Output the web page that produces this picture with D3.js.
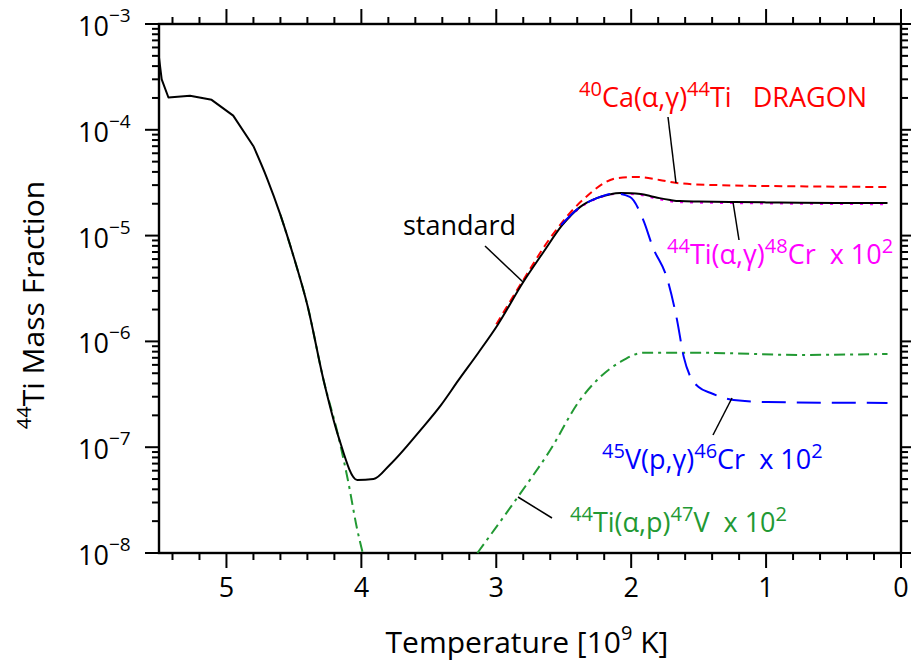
<!DOCTYPE html>
<html lang="en">
<head>
<meta charset="UTF-8">
<title>44Ti Mass Fraction</title>
<script src="https://d3js.org/d3.v7.min.js"></script>
<style>
    body { margin: 0; padding: 0; background: #fff; overflow: hidden; }
    text { font-family: "Open Sans", "Noto Sans", sans-serif; }
</style>
</head>
<body>
<script>
    // temperature [10^9 K]
    const stdT   = [5.50, 5.48, 5.43, 5.27, 5.11, 4.95, 4.80, 4.70, 4.60, 4.50, 4.40, 4.28, 4.17, 4.03, 3.91, 3.79, 3.56, 3.41, 3.28, 3.13, 2.99, 2.80, 2.65, 2.51, 2.38, 2.25, 2.16, 2.08, 2.00, 1.93, 1.86, 1.79, 1.71, 1.64, 1.50, 1.24, 1.00, 0.75, 0.10];
    const stdY   = [4.8e-4, 3.0e-4, 2.02e-4, 2.1e-4, 1.92e-4, 1.36e-4, 7.0e-5, 3.5e-5, 1.57e-5, 6.2e-6, 2.2e-6, 4.3e-7, 1.26e-7, 4.9e-8, 5.0e-8, 6.8e-8, 1.46e-7, 2.5e-7, 4.3e-7, 7.9e-7, 1.43e-6, 3.64e-6, 7.0e-6, 1.26e-5, 1.86e-5, 2.27e-5, 2.45e-5, 2.53e-5, 2.52e-5, 2.47e-5, 2.37e-5, 2.26e-5, 2.17e-5, 2.12e-5, 2.10e-5, 2.08e-5, 2.06e-5, 2.04e-5, 2.03e-5];
    const stdKink = 6; // coarse polyline up to this point, smooth afterwards

    const dragonT = [3.00, 2.80, 2.60, 2.36, 2.10, 1.96, 1.79, 1.66, 1.36, 0.75, 0.10];
    const dragonY = [1.45e-6, 3.8e-6, 9.5e-6, 2.17e-5, 3.5e-5, 3.58e-5, 3.36e-5, 3.14e-5, 3.0e-5, 2.92e-5, 2.88e-5];

    const agCrT = [2.52, 2.38, 2.25, 2.08, 1.93, 1.79, 1.64, 1.24, 0.75, 0.10];
    const agCrY = [1.24e-5, 1.83e-5, 2.25e-5, 2.5e-5, 2.42e-5, 2.2e-5, 2.07e-5, 2.03e-5, 2.0e-5, 1.98e-5];

    const pgCrT = [2.52, 2.38, 2.25, 2.12, 2.01, 1.91, 1.84, 1.73, 1.66, 1.61, 1.56, 1.50, 1.41, 1.24, 0.99, 0.10];
    const pgCrY = [1.26e-5, 1.86e-5, 2.27e-5, 2.5e-5, 2.32e-5, 1.40e-5, 7.8e-6, 3.8e-6, 1.59e-6, 7.1e-7, 4.6e-7, 3.7e-7, 3.25e-7, 2.79e-7, 2.67e-7, 2.62e-7];

    // (a,p) curve has a gap where it drops below 1e-8
    const apVT = [4.60, 4.50, 4.40, 4.28, 4.17, 4.10, 4.03, 3.99, null, 3.14, 2.84, 2.60, 2.38, 2.23, 2.08, 1.91, 1.49, 0.75, 0.10];
    const apVY = [1.57e-5, 6.2e-6, 2.2e-6, 4.3e-7, 1.26e-7, 4.9e-8, 1.65e-8, 1.0e-8, null, 1.0e-8, 3.39e-8, 9.4e-8, 2.79e-7, 4.6e-7, 6.4e-7, 7.8e-7, 7.8e-7, 7.45e-7, 7.6e-7];

    const xMajor = [0, 1, 2, 3, 4, 5];
    const yExp = [-8, -7, -6, -5, -4, -3];

    const width = 911, height = 662;
    const L = 159, R = 901, T = 24, B = 553;

    const svg = d3.select("body").append("svg")
        .attr("width", width)
        .attr("height", height);

    const x = d3.scaleLinear().domain([5.5, 0]).range([L, R]);
    const y = d3.scaleLog().domain([1e-8, 1e-3]).range([B, T]);

    const zip = (a, b) => a.map((v, i) => ({ t: v, v: b[i] }));

    const smooth = d3.line()
        .defined(d => d.t !== null)
        .x(d => x(d.t))
        .y(d => y(d.v))
        .curve(d3.curveMonotoneX);
    const straight = d3.line()
        .x(d => x(d.t))
        .y(d => y(d.v));

    // minor tick positions
    const xMinor = d3.range(0, 5.5001, 0.2).map(v => +v.toFixed(1)).filter(v => !xMajor.includes(v));
    const yMinor = [];
    yExp.slice(0, -1).forEach(e => { for (let k = 2; k <= 9; k++) yMinor.push(k * Math.pow(10, e)); });

    // axes: all ticks point outward, no labels on top / right
    const axes = svg.append("g");
    function ticks(g, scale, vals, len, side) {
        vals.forEach(v => {
            const p = scale(v);
            if (side === "bottom") g.append("line").attr("x1", p).attr("x2", p).attr("y1", B).attr("y2", B + len);
            if (side === "top") g.append("line").attr("x1", p).attr("x2", p).attr("y1", T).attr("y2", T - len);
            if (side === "left") g.append("line").attr("x1", L).attr("x2", L - len).attr("y1", p).attr("y2", p);
            if (side === "right") g.append("line").attr("x1", R).attr("x2", R + len).attr("y1", p).attr("y2", p);
        });
    }
    const tg = axes.append("g").attr("stroke", "#000").attr("stroke-width", 2);
    ["bottom", "top"].forEach(s => { ticks(tg, x, xMajor, 15, s); ticks(tg, x, xMinor, 7, s); });
    ["left", "right"].forEach(s => { ticks(tg, y, yExp.map(e => Math.pow(10, e)), 14, s); ticks(tg, y, yMinor, 7, s); });

    axes.append("rect")
        .attr("x", L).attr("y", T)
        .attr("width", R - L).attr("height", B - T)
        .attr("fill", "none").attr("stroke", "#000").attr("stroke-width", 2.4);

    axes.selectAll(".xl").data(xMajor).enter().append("text")
        .attr("x", d => x(d)).attr("y", 597)
        .attr("text-anchor", "middle")
        .attr("font-size", 27)
        .text(d => d);

    const yl = axes.selectAll(".yl").data(yExp).enter().append("text")
        .attr("y", d => y(Math.pow(10, d)) + 12)
        .attr("font-size", 27);
    yl.append("tspan").attr("x", 78).text("10");
    yl.append("tspan").attr("dy", -14).attr("font-size", 19).text(d => "\u2212" + Math.abs(d));

    // axis titles
    const xt = svg.append("text").attr("x", 527).attr("y", 653)
        .attr("text-anchor", "middle").attr("font-size", 30);
    xt.append("tspan").text("Temperature [10");
    xt.append("tspan").attr("dy", -13).attr("font-size", 20).text("9");
    xt.append("tspan").attr("dy", 13).text(" K]");

    const ytl = svg.append("text")
        .attr("transform", "translate(44,305) rotate(-90)")
        .attr("text-anchor", "middle").attr("font-size", 30);
    ytl.append("tspan").attr("dy", -13).attr("font-size", 20).text("44");
    ytl.append("tspan").attr("dy", 13).text("Ti Mass Fraction");

    // curves
    const std = zip(stdT, stdY);
    const curves = [
        { data: zip(agCrT, agCrY), color: "#ff00ff", dash: "3,7", gen: smooth },
        { data: zip(dragonT, dragonY), color: "#ff0000", dash: "8,5", gen: smooth },
        { data: zip(apVT, apVY), color: "#229933", dash: "11,5,3,5", gen: smooth },
        { data: std.slice(0, stdKink + 1), color: "#000000", dash: null, gen: straight },
        { data: std.slice(stdKink), color: "#000000", dash: null, gen: smooth },
        { data: zip(pgCrT, pgCrY), color: "#0000ff", dash: "24,11", gen: smooth }
    ];
    svg.append("g").selectAll("path").data(curves).enter().append("path")
        .attr("d", d => d.gen(d.data))
        .attr("fill", "none")
        .attr("stroke", d => d.color)
        .attr("stroke-width", 2)
        .attr("stroke-linejoin", "round")
        .attr("stroke-dasharray", d => d.dash);

    // annotations
    function label(px, py, parts, color) {
        const t = svg.append("text").attr("x", px).attr("y", py)
            .attr("font-size", 27).attr("fill", color)
            .attr("xml:space", "preserve");
        let up = false;
        parts.forEach(p => {
            const sup = p[1];
            const s = t.append("tspan").text(p[0]);
            if (sup) s.attr("font-size", 20);
            if (sup && !up) { s.attr("dy", -11); up = true; }
            else if (!sup && up) { s.attr("dy", 11); up = false; }
        });
    }
    label(579, 107, [["40", 1], ["Ca(\u03b1,\u03b3)"], ["44", 1], ["Ti   DRAGON"]], "#ff0000");
    label(403, 235, [["standard"]], "#000");
    label(667, 264, [["44", 1], ["Ti(\u03b1,\u03b3)"], ["48", 1], ["Cr  x 10"], ["2", 1]], "#ff00ff");
    label(602, 469, [["45", 1], ["V(p,\u03b3)"], ["46", 1], ["Cr  x 10"], ["2", 1]], "#0000ff");
    label(570, 532, [["44", 1], ["Ti(\u03b1,p)"], ["47", 1], ["V  x 10"], ["2", 1]], "#229933");

    // pointer lines
    const ptrX1 = [668, 485, 739, 713, 552];
    const ptrY1 = [117, 246, 240, 435, 518];
    const ptrX2 = [676, 523, 733, 732, 518];
    const ptrY2 = [183, 282, 202, 398, 497];
    svg.append("g").selectAll("line").data(ptrX1).enter().append("line")
        .attr("x1", d => d).attr("y1", (d, i) => ptrY1[i])
        .attr("x2", (d, i) => ptrX2[i]).attr("y2", (d, i) => ptrY2[i])
        .attr("stroke", "#000").attr("stroke-width", 1.5);
</script>
</body>
</html>
